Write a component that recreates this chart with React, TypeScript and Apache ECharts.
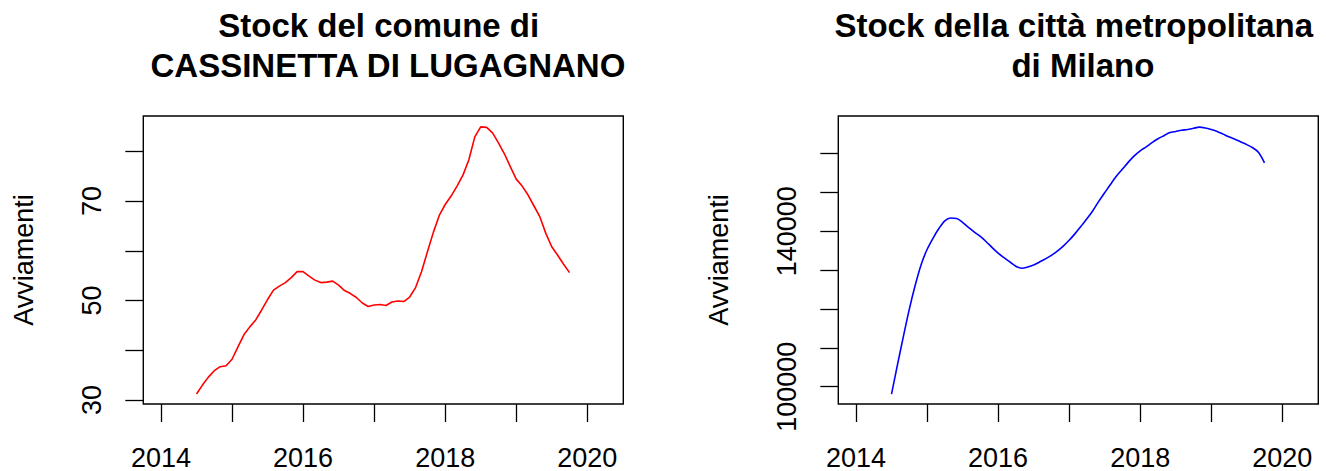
import React, { useEffect, useRef } from "react";
import * as echarts from "echarts";

// Monthly series, first observation July 2014 (decimal year 2014.5)
const START_YEAR = 2014.5;

const comuneValues = [
  31.2, 33.0, 34.6, 35.9, 36.7, 36.9, 38.2, 40.7, 43.1, 44.7, 46.1, 48.1,
  50.2, 52.1, 52.9, 53.6, 54.6, 55.8, 55.8, 54.9, 54.1, 53.6, 53.7, 53.9,
  53.1, 52.0, 51.4, 50.6, 49.5, 48.8, 49.1, 49.2, 49.0, 49.7, 49.9, 49.8,
  50.7, 52.6, 55.8, 59.8, 63.7, 67.1, 69.3, 71.0, 73.0, 75.2, 78.3, 82.9,
  84.9, 84.8, 83.7, 81.7, 79.5, 76.9, 74.4, 73.0, 71.2, 69.0, 66.8, 63.5,
  60.8, 59.1, 57.3, 55.6,
];

const milanoValues = [
  98100, 105600, 112900, 119900, 126100, 131400, 135300, 138200, 140700,
  142700, 143400, 143300, 142300, 141000, 139800, 138700, 137300, 135800,
  134400, 133200, 132100, 131000, 130500, 130800, 131300, 132100, 132900,
  133800, 134900, 136200, 137700, 139400, 141300, 143200, 145300, 147700,
  149900, 152100, 154200, 156000, 157800, 159400, 160700, 161700, 162800,
  163800, 164600, 165400, 165700, 166000, 166200, 166500, 166800, 166600,
  166200, 165700, 165000, 164300, 163700, 163000, 162300, 161500, 160300,
  157600,
];

const xTicks = [2014, 2015, 2016, 2017, 2018, 2019, 2020];
const xLabels = [2014, 2016, 2018, 2020];
const comuneTicks = [30, 40, 50, 60, 70, 80];
const comuneLabels = [30, 50, 70];
const milanoTicks = [100000, 110000, 120000, 130000, 140000, 150000, 160000];
const milanoLabels = [100000, 140000];

const titleLeft = ["Stock del comune di", "CASSINETTA DI LUGAGNANO"];
const titleRight = ["Stock della città metropolitana", "di Milano"];
const yName = "Avviamenti";

const FONT = "'Liberation Sans', Arial, Helvetica, sans-serif";

const plain = (v: number) => String(v);

const toPoints = (vals: number[]) =>
  vals.map((v, i) => [START_YEAR + i / 12, v]);

const GRIDS = [
  { left: 143.3, top: 116, width: 480, height: 288 },
  { left: 838.3, top: 116, width: 480, height: 288 },
];

function makeXAxis(gridIndex: number) {
  return {
    type: "value",
    gridIndex,
    min: 2013.751,
    max: 2020.507,
    axisLine: { show: false },
    splitLine: { show: false },
    axisTick: {
      show: true,
      customValues: xTicks,
      length: 18,
      lineStyle: { color: "#000", width: 1.3 },
    },
    axisLabel: {
      customValues: xLabels,
      formatter: plain,
      fontSize: 27,
      fontFamily: FONT,
      color: "#000",
      margin: 40,
    },
  };
}

function makeYAxis(
  gridIndex: number,
  min: number,
  max: number,
  ticks: number[],
  labels: number[]
) {
  return {
    type: "value",
    gridIndex,
    min,
    max,
    name: yName,
    nameLocation: "middle",
    nameRotate: 90,
    nameGap: 105.5,
    nameTextStyle: { fontSize: 27, fontFamily: FONT, color: "#000" },
    axisLine: { show: false },
    splitLine: { show: false },
    axisTick: {
      show: true,
      customValues: ticks,
      length: 18,
      lineStyle: { color: "#000", width: 1.3 },
    },
    axisLabel: {
      customValues: labels,
      formatter: plain,
      rotate: 90,
      fontSize: 27,
      fontFamily: FONT,
      color: "#000",
      margin: 38,
    },
  };
}

function titleTexts(lines: string[], center: number) {
  const ys = [25.3, 65.9];
  const shifts = [-4.6, 4.6];
  return lines.map((t, i) => ({
    type: "text",
    x: center + shifts[i],
    y: ys[i],
    style: {
      text: t,
      fontSize: 33,
      fontWeight: "bold",
      fontFamily: FONT,
      fill: "#000",
      textAlign: "center",
      textVerticalAlign: "middle",
    },
  }));
}

export default function App() {
  const ref = useRef<HTMLDivElement>(null);

  useEffect(() => {
    if (!ref.current) return;
    const chart = echarts.init(ref.current, null, { renderer: "svg" });
    const option = {
      animation: false,
      backgroundColor: "#fff",
      grid: GRIDS.map((g) => ({
        ...g,
        show: true,
        borderColor: "#000",
        borderWidth: 1.4,
        backgroundColor: "transparent",
        containLabel: false,
      })),
      xAxis: [makeXAxis(0), makeXAxis(1)],
      yAxis: [
        makeYAxis(0, 29.2, 87.09, comuneTicks, comuneLabels),
        makeYAxis(1, 95553, 169666, milanoTicks, milanoLabels),
      ],
      series: [
        {
          type: "line",
          xAxisIndex: 0,
          yAxisIndex: 0,
          data: toPoints(comuneValues),
          showSymbol: false,
          lineStyle: { color: "#ff0000", width: 1.6 },
          silent: true,
        },
        {
          type: "line",
          xAxisIndex: 1,
          yAxisIndex: 1,
          data: toPoints(milanoValues),
          showSymbol: false,
          smooth: 0.3,
          lineStyle: { color: "#0000ff", width: 1.6 },
          silent: true,
        },
      ],
      graphic: [
        ...titleTexts(titleLeft, 383.3),
        ...titleTexts(titleRight, 1078.3),
      ],
    };
    chart.setOption(option as any);
    return () => chart.dispose();
  }, []);

  return (
    <div
      ref={ref}
      style={{
        position: "absolute",
        left: 0,
        top: 0,
        width: 1326,
        height: 471,
      }}
    />
  );
}
